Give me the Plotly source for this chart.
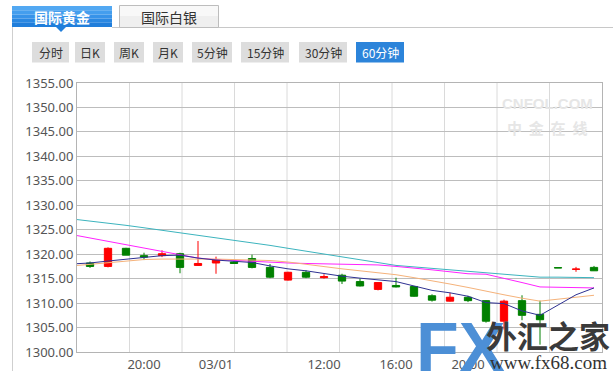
import plotly.graph_objects as go

# ---------------- data ----------------
idx = list(range(29))
opens  = [1318.2, 1317.5, 1321.2, 1319.7, 1319.7, 1320.1, 1317.7, 1318.2, 1318.4, 1319.1,
          1317.3, 1314.7, 1316.3, 1315.2, 1315.7, 1314.4, 1312.8, 1313.6, 1313.4, 1311.5,
          1310.4, 1311.2, 1310.5, 1306.3, 1310.5, 1307.7, 1317.25, 1316.9, 1317.3]
closes = [1317.5, 1321.2, 1319.8, 1319.4, 1320.1, 1317.3, 1318.1, 1318.9, 1318.1, 1317.3,
          1315.3, 1316.3, 1315.3, 1315.4, 1314.5, 1313.5, 1314.2, 1313.3, 1311.4, 1310.6,
          1311.2, 1310.5, 1306.3, 1310.4, 1307.5, 1306.6, 1317.2, 1316.95, 1316.6]
highs  = [1318.5, 1321.4, 1321.3, 1320.3, 1320.8, 1320.3, 1322.7, 1319.5, 1318.6, 1319.9,
          1318.0, 1316.4, 1316.7, 1315.9, 1316.0, 1315.0, 1314.3, 1315.2, 1313.5, 1311.8,
          1312.1, 1311.5, 1310.6, 1310.7, 1311.6, 1310.5, 1317.25, 1317.4, 1317.6]
lows   = [1317.2, 1317.3, 1319.8, 1318.8, 1319.4, 1316.1, 1317.6, 1316.0, 1318.0, 1317.1,
          1315.1, 1314.6, 1315.1, 1315.0, 1313.9, 1313.4, 1312.6, 1313.2, 1311.3, 1310.3,
          1310.3, 1310.2, 1306.0, 1304.6, 1306.5, 1301.5, 1317.2, 1316.4, 1316.6]

ma_idx = list(range(-1, 29))
ma_cyan = [1327.2, 1326.8, 1326.4, 1325.9, 1325.4, 1324.9, 1324.4, 1323.9, 1323.4, 1322.9,
           1322.3, 1321.8, 1321.2, 1320.6, 1320.0, 1319.4, 1318.8, 1318.2, 1317.7, 1317.4,
           1317.1, 1316.8, 1316.4, 1316.1, 1315.8, 1315.5, 1315.3, 1315.3, 1315.2, 1315.2]
ma_magenta = [1324.0, 1323.3, 1322.6, 1321.9, 1321.2, 1320.6, 1319.9, 1319.2, 1318.9, 1318.7,
              1318.5, 1318.3, 1318.2, 1318.1, 1318.0, 1318.0, 1317.9, 1317.8, 1317.5, 1317.2,
              1316.8, 1316.4, 1316.0, 1315.9, 1315.1, 1314.2, 1313.3, 1313.2, 1313.1, 1313.1]
ma_orange = [1317.6, 1317.9, 1318.2, 1318.6, 1318.9, 1319.0, 1319.0, 1319.1, 1319.0, 1318.9,
             1318.8, 1318.7, 1318.4, 1317.9, 1317.4, 1317.0, 1316.6, 1316.2, 1315.8, 1315.2,
             1314.6, 1313.9, 1313.2, 1312.4, 1311.7, 1311.0, 1310.4, 1310.8, 1311.2, 1311.6]
ma_navy = [1318.0, 1318.2, 1318.6, 1319.0, 1319.4, 1319.7, 1319.8, 1319.2, 1318.8, 1318.6,
           1318.3, 1317.6, 1317.0, 1316.6, 1316.0, 1315.5, 1315.1, 1314.7, 1314.4, 1313.5,
           1312.6, 1312.1, 1311.4, 1310.1, 1309.9, 1308.4, 1307.5, 1309.6, 1311.7, 1313.1]

tick_pos = [3, 7, 13, 17, 21]
tick_text = ["20:00", "03/01", "12:00", "16:00", "20:00"]

tabs = ["国际黄金", "国际白银"]
buttons = ["分时", "日K", "周K", "月K", "5分钟", "15分钟", "30分钟", "60分钟"]

# ---------------- figure ----------------
W, H = 613, 371
L, R, T, B = 77, 602, 83, 352

def PX(x):
    return (x - L) / (R - L)

def PY(y):
    return (B - y) / (B - T)

fig = go.Figure()

for vals, col in [(ma_cyan, "#3CB4BE"), (ma_magenta, "#FF22FF"),
                  (ma_orange, "#F5B27A"), (ma_navy, "#2E3192")]:
    fig.add_trace(go.Scatter(x=ma_idx, y=vals, mode="lines",
                             line=dict(color=col, width=1), hoverinfo="skip",
                             showlegend=False))

fig.add_trace(go.Candlestick(
    x=idx, open=opens, high=highs, low=lows, close=closes,
    increasing=dict(line=dict(color="#FF0000", width=1), fillcolor="#FF0000"),
    decreasing=dict(line=dict(color="#008000", width=1), fillcolor="#008000"),
    whiskerwidth=0, showlegend=False, hoverinfo="skip"))

shapes = []
# vertical light gridlines
for k in range(1, 10):
    shapes.append(dict(type="line", xref="paper", yref="paper", x0=k / 10, x1=k / 10,
                       y0=0, y1=1, line=dict(color="#DADADA", width=1), layer="below"))
# frame lines
shapes.append(dict(type="line", xref="paper", yref="paper", x0=PX(12.5), x1=PX(12.5),
                   y0=PY(27), y1=PY(371), line=dict(color="#CFCFCF", width=1)))
shapes.append(dict(type="line", xref="paper", yref="paper", x0=PX(112), x1=PX(613),
                   y0=PY(27.5), y1=PY(27.5), line=dict(color="#C8C8C8", width=1)))
# blue tab (striped gradient)
blue_stripes = ["#52A8F2", "#449EEE", "#3793E9", "#2A88E2", "#207EDB"]
h = 21 / len(blue_stripes)
for i, c in enumerate(blue_stripes):
    shapes.append(dict(type="rect", xref="paper", yref="paper", x0=PX(12), x1=PX(112),
                       y0=PY(6 + h * (i + 1)), y1=PY(6 + h * i), fillcolor=c,
                       line=dict(width=0)))
shapes.append(dict(type="path", xref="paper", yref="paper",
                   path=f"M {PX(56)},{PY(27)} L {PX(66)},{PY(27)} L {PX(61)},{PY(32)} Z",
                   fillcolor="#207EDB", line=dict(width=0)))
# gray tab
shapes.append(dict(type="rect", xref="paper", yref="paper", x0=PX(119.5), x1=PX(218.5),
                   y0=PY(27.5), y1=PY(5.5), fillcolor="#EFEFEF",
                   line=dict(color="#BDBDBD", width=1)))
shapes.append(dict(type="rect", xref="paper", yref="paper", x0=PX(120), x1=PX(218),
                   y0=PY(16), y1=PY(6), fillcolor="#F8F8F8", line=dict(width=0)))

# buttons
btn_x = [(32, 69), (75, 105), (114, 144), (153, 183), (192, 232), (241, 289),
         (299, 347), (356, 404)]
annotations = []
for i, (name, (x0, x1)) in enumerate(zip(buttons, btn_x)):
    sel = (i == len(buttons) - 1)
    shapes.append(dict(type="rect", xref="paper", yref="paper", x0=PX(x0), x1=PX(x1),
                       y0=PY(62.5), y1=PY(42), fillcolor="#2C84DA" if sel else "#DDDDDD",
                       line=dict(width=0)))
    annotations.append(dict(xref="paper", yref="paper", x=PX((x0 + x1) / 2), y=PY(52.5),
                            text=name, showarrow=False, xanchor="center", yanchor="middle",
                            font=dict(family="Noto Sans CJK SC", size=12,
                                      color="#FFFFFF" if sel else "#333333")))

annotations.append(dict(xref="paper", yref="paper", x=PX(62), y=PY(17), text="<b>" + tabs[0] + "</b>",
                        showarrow=False, xanchor="center", yanchor="middle",
                        font=dict(family="Noto Sans CJK SC", size=14, color="#FFFFFF")))
annotations.append(dict(xref="paper", yref="paper", x=PX(169), y=PY(17), text=tabs[1],
                        showarrow=False, xanchor="center", yanchor="middle",
                        font=dict(family="Noto Sans CJK SC", size=14, color="#333333")))

# CNFOL watermark
annotations.append(dict(xref="paper", yref="paper", x=PX(547), y=PY(103), text="<b>CNFOL.COM</b>",
                        showarrow=False, xanchor="center", yanchor="middle",
                        font=dict(family="Liberation Sans", size=15, color="#E6E6E6")))
annotations.append(dict(xref="paper", yref="paper", x=PX(547), y=PY(127), text="<b>中  金  在  线</b>",
                        showarrow=False, xanchor="center", yanchor="middle",
                        font=dict(family="Noto Sans CJK SC", size=15, color="#E6E6E6")))

# FX logo overlay
annotations.append(dict(xref="paper", yref="paper", x=PX(461), y=PY(348), text="<b>FX</b>",
                        showarrow=False, xanchor="center", yanchor="middle",
                        font=dict(family="Liberation Sans", size=70, color="#4C8FD6")))
annotations.append(dict(xref="paper", yref="paper", x=PX(548), y=PY(334), text="<b>外汇之家</b>",
                        showarrow=False, xanchor="center", yanchor="middle",
                        font=dict(family="Noto Sans CJK SC", size=31, color="#3A3A3A")))
annotations.append(dict(xref="paper", yref="paper", x=PX(548), y=PY(362), text="www.fx68.com",
                        showarrow=False, xanchor="center", yanchor="middle",
                        font=dict(family="Liberation Serif", size=19, color="#333333")))

fig.update_layout(
    width=W, height=H, autosize=False,
    margin=dict(l=L, r=W - R, t=T, b=H - B, pad=0, autoexpand=False),
    paper_bgcolor="#FFFFFF", plot_bgcolor="#FFFFFF",
    showlegend=False, boxgap=0.42,
    shapes=shapes, annotations=annotations,
    xaxis=dict(range=[(L - 90) / 18, (R - 90) / 18], tickvals=tick_pos, ticktext=tick_text,
               showgrid=False, zeroline=False, showline=True, mirror=True, automargin=False,
               linecolor="#B4B4B4", linewidth=1, ticks="", rangeslider=dict(visible=False),
               tickfont=dict(family="Noto Sans", size=13, color="#555555"), fixedrange=True),
    yaxis=dict(range=[1300, 1355], dtick=5, tick0=1300, tickformat=".2f", automargin=False,
               showgrid=True, gridcolor="#BDBDBD", gridwidth=1, zeroline=False,
               showline=True, mirror=True, linecolor="#B4B4B4", linewidth=1, ticks="",
               tickfont=dict(family="Noto Sans", size=13, color="#555555"), fixedrange=True),
)

fig.write_html("out.html")
